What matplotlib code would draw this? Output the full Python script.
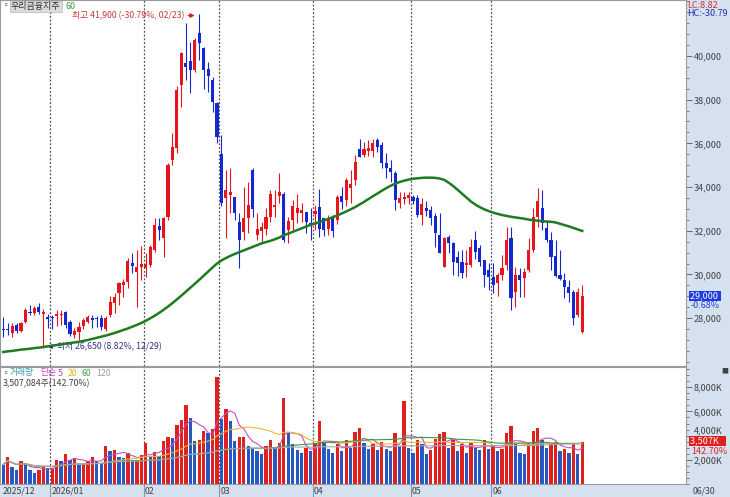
import matplotlib
matplotlib.use("Agg")
import matplotlib.pyplot as plt
from matplotlib.transforms import blended_transform_factory
import numpy as np
import pandas as pd

plt.rcParams['font.family'] = ['Noto Sans CJK KR', 'DejaVu Sans']

# trading days per month shown on the chart
month_labels = ["2025/12", "2026/01", "02", "03", "04", "05", "06"]
month_days = [11, 21, 17, 21, 22, 18, 21]

opens = [27520, 27500, 27310, 27690, 27430, 27810, 28290, 28250, 28530, 28180, 28040,
         28060, 28100, 28130, 28290, 27840, 27220, 27380, 27640, 27840, 27990, 27990,
         27990, 27490, 28150, 28710, 29170, 29520, 29670, 30510, 30130, 30320,
         30300, 30430, 31120, 32220, 31660, 32640, 35240, 35780, 38670, 39670, 39770,
         39360, 41040, 40350, 39400, 38900, 37830,
         35510, 33490, 33640, 33530, 32420, 31960, 32570, 34780, 31810, 32000, 32070,
         32650, 33080, 33590, 33680, 32030, 32490, 32830, 32830, 32870, 32340,
         32770, 33100, 32570, 32070, 32640, 32490, 33590, 33410, 33950, 34320, 35730,
         35470, 35670, 35670, 36160, 35930, 35090, 34890, 34630, 33280, 33450, 33490,
         33560, 33490, 32720, 33030, 32950, 32680, 31810, 30360, 31730, 31430, 30810,
         30590, 30430, 30430, 31580, 31200, 30660, 30200,
         29900, 29600, 29980, 30430, 31660, 29210, 29980, 29830, 30200, 31120, 32650,
         33030, 32110, 31580, 30850, 29980, 29750, 29440, 29210, 28150, 27380]
highs = [28070, 27800, 27780, 27780, 27840, 28450, 28600, 28560, 28690, 28430, 28190,
         28140, 28370, 28370, 28330, 27920, 27550, 27840, 28010, 28140, 28140, 28100,
         28140, 28100, 29000, 29150, 29670, 29770, 30750, 30980, 31120, 31300,
         31000, 31350, 32590, 32590, 32640, 35100, 36470, 38630, 40200, 41500, 40650,
         40810, 41900, 40430, 39740, 39040, 37910,
         36380, 34780, 34870, 33560, 32800, 34020, 34250, 34870, 32810, 32420, 33040,
         33870, 33870, 34630, 33770, 32650, 33410, 33680, 33270, 32870, 33030,
         33180, 33910, 32570, 32720, 32720, 33640, 33980, 34400, 34780, 35450, 36190,
         36070, 36150, 36220, 36260, 36070, 35540, 35240, 34720, 33790, 33770, 33790,
         33640, 33640, 33490, 33360, 33130, 32800, 32800, 31730, 31810, 31500, 31070,
         31120, 31120, 31600, 32000, 31350, 30660, 30510,
         30510, 30070, 30890, 32190, 32190, 30360, 30280, 30290, 31670, 33040, 33940,
         33870, 32490, 31960, 31580, 31120, 30060, 29750, 29290, 29370, 29520]
lows = [27150, 27250, 27140, 27330, 27380, 27770, 28140, 28140, 28170, 26650, 27550,
        27500, 27640, 27690, 27570, 27180, 27090, 26990, 27500, 27760, 27550, 27600,
        27460, 27400, 28040, 28250, 28600, 28970, 29380, 30070, 28520, 29750,
        29900, 30360, 31040, 31580, 30810, 32490, 35010, 35560, 37680, 38900, 38320,
        39280, 39820, 38480, 38370, 37450, 36000,
        33130, 31660, 32810, 32490, 30300, 31580, 31880, 32640, 31580, 31430, 31810,
        32420, 32640, 33260, 31500, 31430, 32030, 32350, 32420, 31880, 31580,
        32030, 31730, 31740, 31800, 31730, 32300, 32980, 33130, 33260, 34100, 35360,
        35360, 35440, 35390, 35600, 34880, 34420, 34250, 32960, 33030, 33230, 33230,
        33230, 32620, 32270, 32660, 32280, 31270, 30970, 30360, 30970, 29980, 29920,
        29840, 29880, 30320, 30720, 30380, 29440, 29300,
        29150, 29000, 29750, 30200, 28370, 28530, 28950, 28980, 30130, 31040, 32190,
        32030, 31500, 30200, 29900, 29750, 28910, 28760, 27680, 28070, 27300]
closes = [27460, 27450, 27640, 27430, 27790, 28370, 28220, 28480, 28300, 28280, 27980,
          27990, 28190, 28200, 27690, 27270, 27390, 27580, 27920, 28040, 27920, 27950,
          27580, 27990, 28760, 28950, 29600, 29670, 30630, 30400, 30360, 30460,
          30460, 31270, 32260, 32030, 32570, 35010, 35850, 38440, 40120, 39510, 39360,
          40730, 40580, 39360, 39080, 37910, 36310,
          33260, 33870, 33790, 32800, 31580, 32570, 33180, 32980, 32070, 32160, 32640,
          33680, 33180, 33790, 31580, 32450, 33130, 33030, 32950, 32420, 32220,
          32920, 32070, 32040, 32570, 32000, 33560, 33330, 34320, 34140, 35160, 35390,
          35730, 35800, 36010, 35850, 35090, 34860, 34700, 33410, 33480, 33560, 33640,
          33380, 32720, 33230, 32920, 32570, 31880, 31000, 31660, 31430, 30590, 30510,
          30050, 30510, 31270, 31050, 30590, 29980, 29900,
          29520, 29980, 30280, 31580, 28910, 29980, 29750, 30130, 31120, 32650, 33380,
          32340, 31580, 30810, 29930, 29780, 29410, 29170, 27990, 29200, 29000]
# volume, thousand shares
volumes = [1610, 2215, 1445, 1170, 1860, 1670, 1170, 925, 1170, 1445, 1340,
           1340, 2020, 1940, 2490, 1990, 2160, 1580, 1670, 1940, 2270, 1940,
           1720, 3180, 2710, 2770, 2270, 2160, 2545, 1990, 1990, 2410,
           3400, 2215, 2630, 2355, 3590, 3870, 3815, 4890, 5330, 6540, 5470,
           3540, 3650, 4360, 4200, 4560, 8820,
           5385, 6210, 5245, 3590, 3865, 3920, 3180, 3000, 2700, 2500, 3100,
           3600, 3000, 3400, 7100, 4200, 3300, 2800, 2600, 3000, 2700,
           3400, 5200, 3500, 2900, 2600, 3300, 2700, 3600, 3000, 4300, 4600,
           3400, 2900, 3300, 2800, 3500, 2900, 2700, 4200, 3100, 6900, 3000,
           2600, 3600, 3300, 2500, 2800, 3700, 4100, 4300, 3000, 3600, 2700,
           3300, 2600, 3500, 3000, 2800, 3600, 2900,
           3100, 2700, 2900, 4200, 4800, 3300, 2600, 2500, 3400, 4400, 4600,
           3600, 3000, 3300, 3500, 2700, 2900, 2600, 3300, 2458, 3507]
ma60 = [26450, 26480, 26500, 26530, 26560, 26580, 26600, 26630, 26650, 26680,
        26710, 26740, 26770, 26800, 26830, 26860, 26890, 26920, 26960, 27000,
        27050, 27100, 27150, 27200, 27260, 27320, 27390, 27460, 27530, 27610,
        27690, 27780, 27880, 27990, 28110, 28240, 28380, 28530, 28690, 28860,
        29030, 29210, 29390, 29570, 29750, 29940, 30130, 30320, 30500, 30640,
        30750, 30850, 30940, 31020, 31100, 31180, 31260, 31340, 31420, 31480,
        31540, 31610, 31690, 31800, 31870, 31950, 32030, 32110, 32190, 32270,
        32330, 32400, 32470, 32540, 32620, 32700, 32790, 32880, 32980, 33080,
        33200, 33320, 33450, 33580, 33700, 33830, 33950, 34060, 34150, 34230,
        34290, 34340, 34380, 34400, 34420, 34430, 34430, 34420, 34390, 34330,
        34200, 34050, 33880, 33700, 33520, 33340, 33200, 33080, 32980, 32900,
        32830, 32770, 32720, 32680, 32640, 32610, 32580, 32550, 32510, 32480,
        32460, 32440, 32420, 32410, 32380, 32320, 32260, 32200, 32130, 32060, 31990]

UP, DOWN = '#E8141C', '#1428D2'
VUP, VDOWN = '#E0201E', '#2658C4'
PANEL = '#D5E1EF'
W, H = 730, 497


def box(l, t, r, b):
    return [l / W, 1 - b / H, (r - l) / W, (b - t) / H]


def ftext(px, py, s, **kw):
    return fig.text(px / W, 1 - py / H, s, va='center', **kw)


n = len(closes)
x = np.arange(n)
o = np.array(opens); c = np.array(closes)
hi = np.array(highs); lo = np.array(lows)
vol = pd.Series(volumes, dtype=float)

fig = plt.figure(figsize=(7.30, 4.97), dpi=100, facecolor=PANEL)
ax = fig.add_axes(box(0, 0, 686, 366))
axv = fig.add_axes(box(0, 367, 686, 484))

starts = np.cumsum([0] + month_days[:-1])
for a in (ax, axv):
    a.set_facecolor('white')
    a.set_xlim(-0.725, 153.3)
    for s in a.spines.values():
        s.set_color('#9A9A9A')
        s.set_linewidth(0.8)
    a.set_xticks([])
    a.yaxis.tick_right()
    a.tick_params(axis='y', which='both', colors='#6A6A6A', labelcolor='#404040',
                  labelsize=6.5, pad=1.5)
    a.tick_params(axis='y', which='major', length=4, width=0.7)
    a.tick_params(axis='y', which='minor', length=2, width=0.6)
    for s0 in starts[1:]:
        a.axvline(s0 - 0.5, color='#505050', lw=0.9, ls=(0, (1.5, 1.5)), zorder=1)

# candles
cols = [UP if cc >= oo else DOWN for oo, cc in zip(o, c)]
ax.vlines(x, lo, hi, colors=cols, lw=0.8, zorder=2)
ax.bar(x, np.maximum(np.abs(c - o), 50), bottom=np.minimum(o, c), width=0.7,
       color=cols, lw=0, zorder=3)
ax.plot(x, ma60, color='#1E7B1E', lw=1.8, zorder=4)
ax.set_ylim(25810, 42560)
ax.set_yticks(range(28000, 40001, 2000))
ax.set_yticklabels([f"{v:,}" for v in range(28000, 40001, 2000)])
ax.set_yticks(range(26000, 42501, 500), minor=True)

# high / low markers
ax.text(40.6, 41850, "최고 41,900 (-30.79%, 02/23)", color='#C83838', fontsize=6.3,
        ha='right', va='center')
ax.annotate('', xy=(43.6, 41850), xytext=(40.9, 41850),
            arrowprops=dict(arrowstyle='-|>', color='#D02020', lw=0.9, mutation_scale=6))
ax.annotate('', xy=(9.3, 26700), xytext=(11.8, 26700),
            arrowprops=dict(arrowstyle='-|>', color='#202080', lw=0.9, mutation_scale=6))
ax.text(12.0, 26700, "최저 26,650 (8.82%, 12/29)", color='#303090', fontsize=6.3,
        ha='left', va='center')

# volume
vcols = [VDOWN] + [VUP if volumes[i] >= volumes[i - 1] else VDOWN for i in range(1, n)]
axv.bar(x, volumes, width=0.75, color=vcols, lw=0, zorder=2)
for w, col in [(5, '#C050C0'), (20, '#E8B830'), (60, '#3A9A4A'), (120, '#A8A8A8')]:
    axv.plot(x, vol.rolling(w, min_periods=1).mean(), color=col, lw=0.8, zorder=3)
axv.set_ylim(0, 9670)
axv.set_yticks([2000, 4000, 6000, 8000])
axv.set_yticklabels(["2,000K", "4,000K", "6,000K", "8,000K"])
axv.set_yticks(range(0, 9601, 500), minor=True)
# the 4,000K label sits behind the last-volume tag, as in the original
axv.get_yticklabels()[1].set_va('bottom')

# date strip
tr = blended_transform_factory(axv.transData, fig.transFigure)
for s0, lab in zip(starts, month_labels):
    if s0 > 0:
        fig.add_artist(plt.Line2D([s0 - 0.5, s0 - 0.5], [0, 12 / H], transform=tr,
                                  color='#8A96AA', lw=0.8))
    axv.text(s0 - 0.2, 1 - 491 / H, lab, transform=tr, fontsize=6.3, color='#404040',
             va='center', ha='left')
ftext(693, 491, "06/30", fontsize=6.3, color='#404040')

# header labels
ftext(2, 6, "▫", fontsize=6, color='#707070')
ftext(11, 6.5, "우리금융지주", fontsize=6.5, color='#303030',
      bbox=dict(boxstyle='square,pad=0.12', fc='#DCDCDC', ec='#B8B8B8', lw=0.5))
ftext(66, 6.5, "60", fontsize=6.5, color='#3C9A3C')
ftext(687, 5, "LC:8.82", fontsize=6.5, color='#D03030')
ftext(687, 14, "HC:-30.79", fontsize=6.5, color='#2030B0')

ftext(2, 373, "▫", fontsize=6, color='#707070')
ftext(10, 373, "거래량", fontsize=6.3, color='#3C9CB4')
ftext(40, 373, "단순", fontsize=6.3, color='#C040C0')
ftext(58, 373, "5", fontsize=6.3, color='#C040C0')
ftext(68, 373, "20", fontsize=6.3, color='#E0B020')
ftext(82, 373, "60", fontsize=6.3, color='#40A040')
ftext(96, 373, "120", fontsize=6.3, color='#A0A0A0')
ftext(3, 384, "3,507,084주(142.70%)", fontsize=6.3, color='#404040')

# last value tags
ftext(690, 296, "29,000 ", fontsize=6.5, color='white',
      bbox=dict(boxstyle='square,pad=0.1', fc='#1A3CE0', ec='none'))
ftext(691, 305, "-0.68%", fontsize=6.5, color='#2040D0')
ftext(690, 441, "3,507K   ", fontsize=6.5, color='white',
      bbox=dict(boxstyle='square,pad=0.1', fc='#E02020', ec='none'), zorder=5)
ftext(691, 451, "142.70%", fontsize=6.5, color='#E02020')
ftext(721, 371, "■", fontsize=5, color='#404040')

fig.savefig("out.png", dpi=100, facecolor=PANEL)
